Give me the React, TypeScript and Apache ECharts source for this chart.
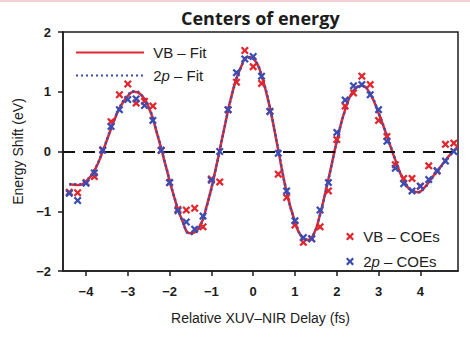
import React, { useEffect, useRef } from "react";
import * as echarts from "echarts";

// Pump-probe delay of each measured centre of energy (fs)
const delay = [
  -4.4, -4.2, -4.0, -3.8, -3.6, -3.4, -3.2, -3.0, -2.8, -2.6, -2.4, -2.2, -2.0, -1.8, -1.6, -1.4,
  -1.2, -1.0, -0.8, -0.6, -0.4, -0.2, 0, 0.2, 0.4, 0.6, 0.8, 1.0, 1.2, 1.4, 1.6, 1.8, 2.0, 2.2,
  2.4, 2.6, 2.8, 3.0, 3.2, 3.4, 3.6, 3.8, 4.0, 4.2, 4.4, 4.6, 4.8,
];

// Valence-band centres of energy (eV)
const vbCoes = [
  -0.68, -0.69, -0.52, -0.42, 0.03, 0.5, 0.95, 1.13, 0.81, 0.84, 0.76, 0.02, -0.52, -0.97, -0.98,
  -0.95, -1.26, -0.46, -0.51, 0.7, 1.16, 1.69, 1.42, 1.14, 0.67, -0.38, -0.77, -1.23, -1.52, -1.46,
  -1.26, -0.66, 0.2, 0.76, 0.98, 1.26, 1.12, 0.52, 0.25, -0.22, -0.45, -0.45, -0.58, -0.24, -0.33,
  0.12, 0.14,
];

// 2p core-level centres of energy (eV)
const p2Coes = [
  -0.7, -0.82, -0.53, -0.36, 0.02, 0.42, 0.7, 0.87, 0.88, 0.77, 0.52, 0.02, -0.52, -0.99, -1.18,
  -1.3, -1.08, -0.48, 0.0, 0.7, 1.32, 1.55, 1.59, 1.26, 0.67, -0.03, -0.66, -1.16, -1.44, -1.46,
  -0.98, -0.52, 0.32, 0.86, 1.1, 1.12, 0.95, 0.7, 0.17, -0.28, -0.54, -0.66, -0.58, -0.47, -0.32,
  -0.16, 0.0,
];

// Delays at which the fitted curves are tabulated (fs)
const fitDelay = [
  -4.4, -4.2, -4.0, -3.8, -3.6, -3.4, -3.2, -3.0, -2.85, -2.7, -2.5, -2.3, -2.1, -1.9, -1.7, -1.5,
  -1.3, -1.1, -0.9, -0.7, -0.5, -0.3, -0.12, 0.05, 0.2, 0.4, 0.6, 0.8, 1.0, 1.15, 1.3, 1.45, 1.6,
  1.8, 2.0, 2.2, 2.4, 2.6, 2.8, 3.0, 3.2, 3.4, 3.6, 3.8, 3.95, 4.1, 4.3, 4.5, 4.7, 4.9,
];

const vbFit = [
  -0.55, -0.56, -0.5, -0.32, 0.0, 0.38, 0.72, 0.93, 1.0, 0.96, 0.74, 0.3, -0.22, -0.74, -1.15,
  -1.37, -1.28, -0.88, -0.3, 0.36, 0.98, 1.4, 1.58, 1.52, 1.27, 0.73, 0.02, -0.68, -1.18, -1.42,
  -1.48, -1.38, -1.05, -0.46, 0.17, 0.7, 1.02, 1.1, 0.96, 0.64, 0.26, -0.14, -0.48, -0.66, -0.68,
  -0.6, -0.42, -0.24, -0.06, 0.08,
];

const p2Fit = [
  -0.55, -0.55, -0.49, -0.31, 0.01, 0.39, 0.73, 0.94, 1.01, 0.97, 0.75, 0.31, -0.21, -0.73, -1.15,
  -1.38, -1.29, -0.89, -0.31, 0.35, 0.97, 1.39, 1.57, 1.52, 1.27, 0.74, 0.03, -0.67, -1.17, -1.41,
  -1.47, -1.38, -1.06, -0.47, 0.16, 0.69, 1.01, 1.1, 0.97, 0.65, 0.27, -0.13, -0.47, -0.65, -0.68,
  -0.61, -0.43, -0.25, -0.07, 0.07,
];

const RED = "#e3262e";
const BLUE = "#3a4db2";
const INK = "#1c1c1c";
const FONT = "'Liberation Sans', Arial, Helvetica, sans-serif";
const CROSS = "path://M2,0L5,3L8,0L10,2L7,5L10,8L8,10L5,7L2,10L0,8L3,5L0,2Z";

const pairs = (xs: number[], ys: number[]) => xs.map((x, i) => [x, ys[i]]);
const signed = (v: number) => String(v).replace("-", "\u2212");

const italicP = (name: string) => name.replace("2p", "2{i|p}");

export default function App() {
  const ref = useRef<HTMLDivElement>(null);

  useEffect(() => {
    const chart = echarts.init(ref.current!, null, { renderer: "svg" });
    const legendText = {
      fontFamily: FONT,
      fontSize: 15,
      color: INK,
      rich: { i: { fontFamily: FONT, fontSize: 15, color: INK, fontStyle: "italic" } },
    };

    chart.setOption({
      animation: false,
      backgroundColor: "#ffffff",
      title: {
        text: "Centers of energy",
        left: 176,
        top: 4,
        textStyle: { fontFamily: "'Open Sans', sans-serif", fontWeight: 700, fontSize: 18, color: INK },
      },
      graphic: [
        {
          type: "rect",
          shape: { x: 0, y: 0, width: 470, height: 2 },
          style: { fill: "rgba(232,120,140,0.35)" },
          silent: true,
        },
      ],
      grid: {
        left: 63,
        right: 12,
        top: 32,
        bottom: 67,
        show: true,
        borderColor: INK,
        borderWidth: 1.5,
        backgroundColor: "transparent",
      },
      xAxis: {
        type: "value",
        min: -4.55,
        max: 4.9,
        splitNumber: 9,
        minInterval: 1,
        maxInterval: 1,
        name: "Relative XUV\u2013NIR Delay (fs)",
        nameLocation: "middle",
        nameGap: 40,
        nameTextStyle: { fontFamily: FONT, fontSize: 14, color: INK },
        axisLine: { onZero: false, lineStyle: { color: INK, width: 1.5 } },
        axisTick: { show: true, length: 5, lineStyle: { color: INK, width: 1.5 } },
        axisLabel: {
          margin: 14,
          showMinLabel: false,
          showMaxLabel: false,
          fontFamily: FONT,
          fontSize: 13,
          fontWeight: "bold",
          color: INK,
          formatter: (v: number) => signed(v),
        },
        splitLine: { show: false },
      },
      yAxis: {
        type: "value",
        min: -2,
        max: 2,
        interval: 1,
        name: "Energy Shift (eV)",
        nameLocation: "middle",
        nameGap: 38,
        nameTextStyle: { fontFamily: FONT, fontSize: 14, color: INK },
        axisLine: { onZero: false, lineStyle: { color: INK, width: 1.5 } },
        axisTick: { show: true, length: 5, lineStyle: { color: INK, width: 1.5 } },
        axisLabel: {
          margin: 12,
          fontFamily: FONT,
          fontSize: 13,
          fontWeight: "bold",
          color: INK,
          formatter: (v: number) => signed(v),
        },
        splitLine: { show: false },
      },
      legend: [
        {
          data: ["VB \u2013 Fit", "2p \u2013 Fit"],
          orient: "vertical",
          left: 70,
          top: 40,
          itemWidth: 68,
          itemHeight: 14,
          itemGap: 8,
          itemStyle: { opacity: 0 },
          textStyle: legendText,
          formatter: (n: string) => " " + italicP(n),
          selectedMode: false,
        },
        {
          data: ["VB \u2013 COEs", "2p \u2013 COEs"],
          orient: "vertical",
          left: 341,
          top: 224,
          itemWidth: 8,
          itemHeight: 8,
          itemGap: 10,
          textStyle: legendText,
          formatter: (n: string) => " " + italicP(n),
          selectedMode: false,
        },
      ],
      series: [
        {
          name: "VB \u2013 Fit",
          type: "line",
          data: pairs(fitDelay, vbFit),
          smooth: 0.5,
          symbol: "none",
          lineStyle: { color: RED, width: 2.5 },
          itemStyle: { color: RED },
          z: 2,
          markLine: {
            silent: true,
            symbol: ["none", "none"],
            label: { show: false },
            lineStyle: { color: "#111", width: 2, type: [12, 8] },
            data: [{ yAxis: 0 }],
          },
        },
        {
          name: "2p \u2013 Fit",
          type: "line",
          data: pairs(fitDelay, p2Fit),
          smooth: 0.5,
          symbol: "none",
          lineStyle: { color: BLUE, width: 2.5, type: [2, 3] },
          itemStyle: { color: BLUE },
          z: 3,
        },
        {
          name: "VB \u2013 COEs",
          type: "scatter",
          data: pairs(delay, vbCoes),
          symbol: CROSS,
          symbolSize: 8,
          itemStyle: { color: RED, opacity: 1 },
          z: 4,
        },
        {
          name: "2p \u2013 COEs",
          type: "scatter",
          data: pairs(delay, p2Coes),
          symbol: CROSS,
          symbolSize: 8,
          itemStyle: { color: BLUE, opacity: 1 },
          z: 5,
        },
      ],
    });

    return () => chart.dispose();
  }, []);

  return (
    <div
      ref={ref}
      style={{ position: "absolute", left: 0, top: 0, width: 470, height: 338 }}
    />
  );
}
